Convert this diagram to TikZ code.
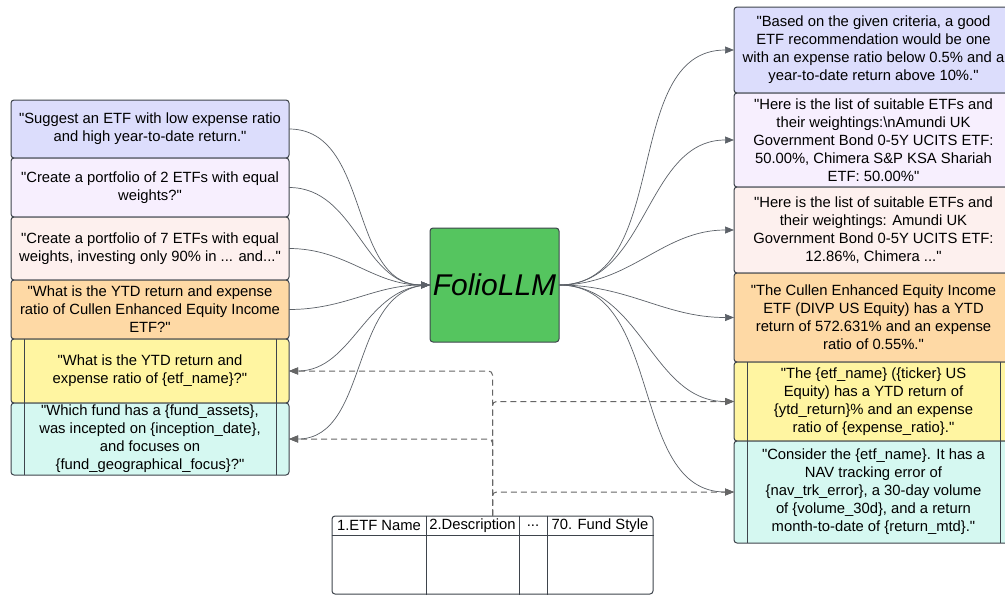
\documentclass[tikz,border=0pt]{standalone}
\usepackage{fontspec}
\setmainfont{Liberation Sans}[Ligatures=TeXOff]
\usetikzlibrary{arrows.meta}

\definecolor{edge}{HTML}{3E444C}
\definecolor{wire}{HTML}{5C6168}
\definecolor{qBlue}{HTML}{DCDDFC}
\definecolor{qLilac}{HTML}{F7EFFE}
\definecolor{qRose}{HTML}{FDF0EE}
\definecolor{qAmber}{HTML}{FED9A5}
\definecolor{qLemon}{HTML}{FFF5A1}
\definecolor{qMint}{HTML}{D5F8F1}
\definecolor{llmGreen}{HTML}{55C55F}

\tikzset{
  box/.style   = {draw=edge, rounded corners=3pt, line width=1pt, inner sep=0pt, outer sep=0pt,
                  align=center, font=\fontsize{14.8}{18}\selectfont},
  tmpl/.style  = {box, path picture={
                    \draw[edge, line width=1pt]
                      ([xshift=13pt]path picture bounding box.north west) -- ([xshift=13pt]path picture bounding box.south west)
                      ([xshift=-13pt]path picture bounding box.north east) -- ([xshift=-13pt]path picture bounding box.south east);}},
  llm/.style   = {box, fill=llmGreen, font=\fontsize{30}{36}\selectfont\itshape},
  flow/.style  = {-{Triangle[length=9pt,width=7pt]}, draw=wire, line width=0.7pt},
  feed/.style  = {flow, draw=black!60, line width=1pt, dash pattern=on 6pt off 4pt, rounded corners=4pt},
  cell/.style  = {font=\fontsize{14.8}{18}\selectfont, inner sep=0pt},
}

\begin{document}
\begin{tikzpicture}[x=1pt,y=-1pt]
  \useasboundingbox (0,0) rectangle (1005,595);
  \clip (0,0) rectangle (1005,595);
  \fill[white] (0,0) rectangle (1005,595);

  % prompts
  \node[box, fill=qBlue,  minimum width=278, minimum height=58] (q1) at (150,129)
    {"Suggest an ETF with low expense ratio\\and high year-to-date return."};
  \node[box, fill=qLilac, minimum width=278, minimum height=59] (q2) at (150,187.5)
    {"Create a portfolio of 2 ETFs with equal\\weights?"};
  \node[box, fill=qRose,  minimum width=278, minimum height=63] (q3) at (150,248.5)
    {"Create a portfolio of 7 ETFs with equal\\weights, investing only 90\% in ... and..."};
  \node[box, fill=qAmber, minimum width=278, minimum height=59] (q4) at (150,309.5)
    {"What is the YTD return and expense\\ratio of Cullen Enhanced Equity Income\\ETF?"};
  \node[tmpl, fill=qLemon, minimum width=278, minimum height=64] (q5) at (150,371)
    {"What is the YTD return and\\expense ratio of \{etf\_name\}?"};
  \node[tmpl, fill=qMint,  minimum width=278, minimum height=72] (q6) at (150,439)
    {"Which fund has a \{fund\_assets\},\\was incepted on \{inception\_date\},\\and focuses on\\\{fund\_geographical\_focus\}?"};

  \node[llm, minimum width=129, minimum height=114] (model) at (494.5,285) {FolioLLM};

  % answers
  \node[box, fill=qBlue,  minimum width=279, minimum height=86] (a1) at (873.5,50)
    {"Based on the given criteria, a good\\ETF recommendation would be one\\with an expense ratio below 0.5\% and a\\year-to-date return above 10\%."};
  \node[box, fill=qLilac, minimum width=279, minimum height=94] (a2) at (873.5,140)
    {"Here is the list of suitable ETFs and\\their weightings:\textbackslash nAmundi UK\\Government Bond 0-5Y UCITS ETF:\\50.00\%, Chimera S\&P KSA Shariah\\ETF: 50.00\%"};
  \node[box, fill=qRose,  minimum width=279, minimum height=86] (a3) at (873.5,230)
    {"Here is the list of suitable ETFs and\\their weightings: Amundi UK\\Government Bond 0-5Y UCITS ETF:\\12.86\%, Chimera ..."};
  \node[box, fill=qAmber, minimum width=279, minimum height=89] (a4) at (873.5,317.5)
    {"The Cullen Enhanced Equity Income\\ETF (DIVP US Equity) has a YTD\\return of 572.631\% and an expense\\ratio of 0.55\%."};
  \node[tmpl, fill=qLemon, minimum width=279, minimum height=79] (a5) at (873.5,401.5)
    {"The \{etf\_name\} (\{ticker\} US\\Equity) has a YTD return of\\\{ytd\_return\}\% and an expense\\ratio of \{expense\_ratio\}."};
  \node[tmpl, fill=qMint,  minimum width=279, minimum height=102] (a6) at (873.5,492)
    {"Consider the \{etf\_name\}. It has a\\NAV tracking error of\\\{nav\_trk\_error\}, a 30-day volume\\of \{volume\_30d\}, and a return\\month-to-date of \{return\_mtd\}."};

  % dataset table
  \node[draw=edge, line width=1pt, rounded corners=3pt, minimum width=321, minimum height=78] (tab) at (492.5,555) {};
  \coordinate (hdr) at (0,535);
  \draw[edge, line width=1pt] (tab.west |- hdr) -- (tab.east |- hdr);
  \foreach \x in {426,519,547}
    \draw[edge, line width=1pt] (\x,0 |- tab.north) -- (\x,0 |- tab.south);
  \node[cell] (c1) at (379,525.5) {1.ETF Name};
  \node[cell] (c2) at (472.5,525.5) {2.Description};
  \node[cell] (c3) at (533,525.5) {...};
  \node[cell] (c4) at (600,525.5) {70. Fund Style};

  % connectors
  \foreach \i in {1,...,4}
    \draw[flow] (q\i.east) to[out=0,in=180] (model.west);
  \foreach \i in {5,6}
    \draw[flow] (model.west) to[out=180,in=0] (q\i.east);
  \foreach \i in {1,...,6}
    \draw[flow] (model.east) to[out=0,in=180] (a\i.west);
  \foreach \i in {5,6} {
    \draw[feed] (tab.north) |- (q\i.east);
    \draw[feed] (tab.north) |- (a\i.west);
  }
\end{tikzpicture}
\end{document}
